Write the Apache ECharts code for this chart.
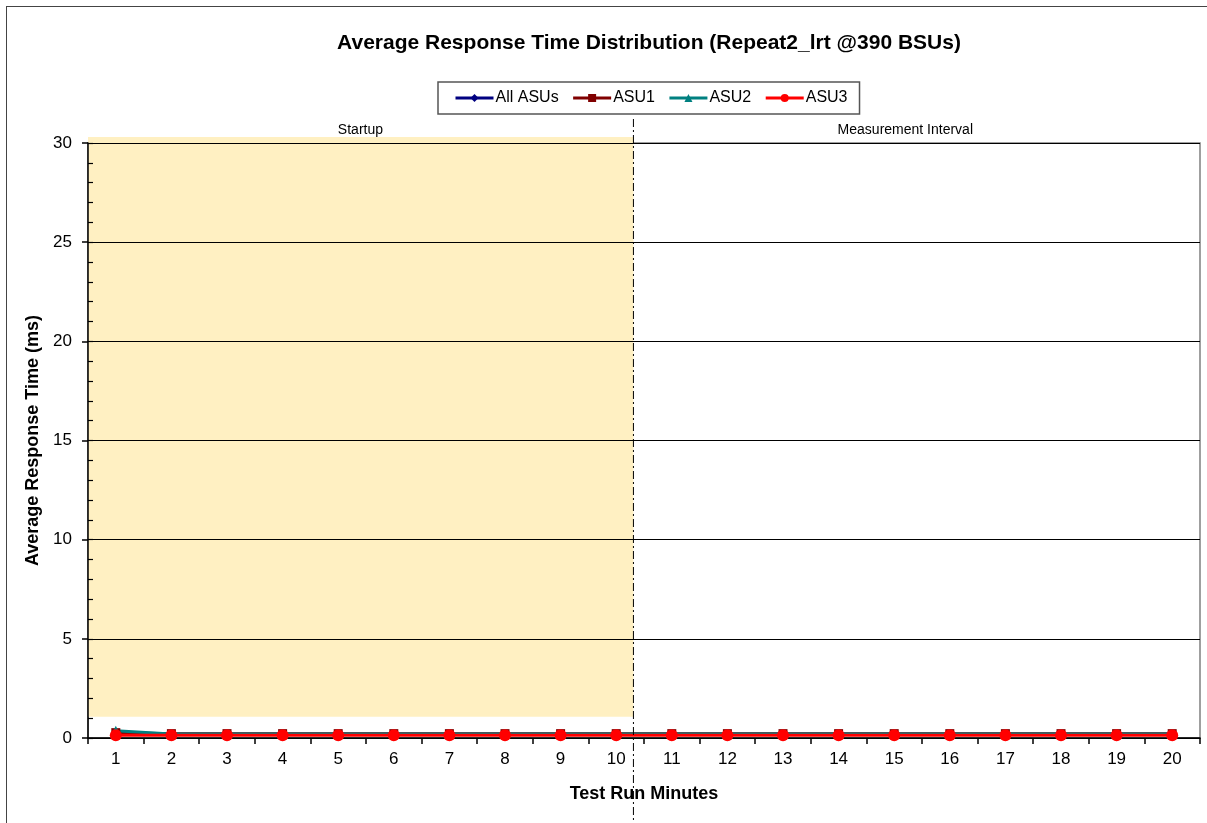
<!DOCTYPE html>
<html>
<head>
<meta charset="utf-8">
<script src="https://cdn.jsdelivr.net/npm/echarts@6/dist/echarts.min.js"></script>
<style>
html,body{margin:0;padding:0;background:#fff;overflow:hidden;}
#frame{position:absolute;left:6px;top:6px;width:1300px;height:1000px;border:1.5px solid #444;box-sizing:border-box;}
#chart{position:absolute;left:0;top:0;width:1207px;height:823px;}
</style>
</head>
<body>
<div id="frame"></div>
<div id="chart"></div>
<script>
// ---- data ----
const minutes = ['1','2','3','4','5','6','7','8','9','10','11','12','13','14','15','16','17','18','19','20'];
const allASUs = [0.24,0.19,0.19,0.19,0.19,0.19,0.19,0.19,0.19,0.19,0.19,0.19,0.19,0.19,0.19,0.19,0.19,0.19,0.19,0.19];
const asu1    = [0.27,0.22,0.22,0.22,0.22,0.22,0.22,0.22,0.22,0.22,0.22,0.22,0.22,0.22,0.22,0.22,0.22,0.22,0.22,0.22];
const asu2    = [0.36,0.20,0.20,0.20,0.20,0.20,0.20,0.20,0.20,0.20,0.20,0.20,0.20,0.20,0.20,0.20,0.20,0.20,0.20,0.20];
const asu3    = [0.14,0.14,0.14,0.14,0.14,0.14,0.14,0.14,0.14,0.14,0.14,0.14,0.14,0.14,0.14,0.14,0.14,0.14,0.14,0.14];
const yTicks = [0,5,10,15,20,25,30];
// phases
const phaseNames = ['Startup', 'Measurement Interval'];
const phaseLabelX = [5.4, 15.2];
const startupShade = {x0: 0.5, x1: 10.31, y0: 1.07, y1: 30.3};
const dividerX = 10.31;

const FONT = 'Liberation Sans, Arial, sans-serif';
const chart = echarts.init(document.getElementById('chart'));

const lineSeries = (name, data, color, symbol, size) => ({
  name, type: 'line', data, xAxisIndex: 0, yAxisIndex: 0,
  symbol, symbolSize: size, showSymbol: true,
  lineStyle: {color, width: 3}, itemStyle: {color},
  z: 5, animation: false
});

chart.setOption({
  animation: false,
  backgroundColor: 'transparent',
  textStyle: {fontFamily: FONT},
  title: {
    text: 'Average Response Time Distribution (Repeat2_lrt @390 BSUs)',
    left: 644, textAlign: 'center', top: 28,
    textStyle: {fontFamily: FONT, fontSize: 21, fontWeight: 'bold', color: '#000'}
  },
  legend: {
    left: 438, top: 82,
    data: ['All ASUs','ASU1','ASU2','ASU3'],
    borderColor: '#555', borderWidth: 1.5,
    padding: [8, 12, 8, 16],
    itemGap: 13, itemWidth: 38, itemHeight: 10,
    lineStyle: {width: 3},
    textStyle: {fontFamily: FONT, fontSize: 16, color: '#000', padding: [0,0,0,-3]}
  },
  grid: {left: 88, right: 7, top: 143, bottom: 85, show: true, borderColor: '#808080', borderWidth: 1.5, backgroundColor: 'transparent'},
  xAxis: [{
    type: 'category', data: minutes, boundaryGap: true,
    name: 'Test Run Minutes', nameLocation: 'middle', nameGap: 47,
    nameTextStyle: {fontFamily: FONT, fontSize: 18, fontWeight: 'bold', color: '#000'},
    axisLine: {lineStyle: {color: '#000', width: 1.5}},
    axisTick: {show: true, alignWithLabel: false, length: 6, lineStyle: {color: '#000', width: 1.5}},
    axisLabel: {fontFamily: FONT, fontSize: 17, color: '#000', margin: 13},
    splitLine: {show: false}
  }, {
    type: 'value', min: 0.5, max: 20.5, show: false
  }],
  yAxis: [{
    type: 'value', min: 0, max: 30, interval: 5,
    name: 'Average Response Time (ms)', nameLocation: 'middle', nameGap: 44,
    nameTextStyle: {fontFamily: FONT, fontSize: 18, fontWeight: 'bold', color: '#000'},
    axisLine: {show: true, lineStyle: {color: '#000', width: 1.5}},
    axisTick: {show: true, length: 6, lineStyle: {color: '#000', width: 1.5}},
    axisLabel: {fontFamily: FONT, fontSize: 17, color: '#000', margin: 16},
    splitLine: {show: true, lineStyle: {color: '#000', width: 1}},
    z: 3
  }, {
    type: 'value', min: 0, max: 30, interval: 1, position: 'left',
    axisLine: {show: false},
    axisTick: {show: true, inside: true, length: 5, lineStyle: {color: '#000', width: 1.2}},
    axisLabel: {show: false},
    splitLine: {show: false},
    z: 4
  }],
  series: [
    {
      type: 'custom', xAxisIndex: 1, yAxisIndex: 0, z: 1, silent: true,
      data: [[startupShade.x0, startupShade.x1, startupShade.y0, startupShade.y1]],
      renderItem: (params, api) => {
        const p0 = api.coord([api.value(0), api.value(3)]);
        const p1 = api.coord([api.value(1), api.value(2)]);
        return {type: 'rect', shape: {x: p0[0], y: p0[1], width: p1[0]-p0[0], height: p1[1]-p0[1]},
          style: {fill: '#FFF0C2'}};
      }
    },
    {
      type: 'custom', xAxisIndex: 1, yAxisIndex: 0, z: 6, silent: true, clip: false,
      data: [[dividerX]],
      renderItem: (params, api) => {
        const top = api.coord([api.value(0), 30]);
        const bot = api.coord([api.value(0), 0]);
        return {type: 'line', shape: {x1: top[0], y1: top[1]-24, x2: bot[0], y2: bot[1]+90},
          style: {stroke: '#000', lineWidth: 1, lineDash: [8, 3, 2, 3]}};
      }
    },
    {
      type: 'custom', xAxisIndex: 1, yAxisIndex: 0, z: 6, silent: true, clip: false,
      data: phaseLabelX.map((x, i) => [x, i]),
      renderItem: (params, api) => {
        const p = api.coord([api.value(0), 30]);
        return {type: 'text', x: p[0], y: p[1]-13,
          style: {text: phaseNames[api.value(1)], fill: '#000', font: '14px ' + FONT, align: 'center', verticalAlign: 'middle'}};
      }
    },
    lineSeries('All ASUs', allASUs, '#000080', 'diamond', 10),
    lineSeries('ASU1', asu1, '#800000', 'rect', 9),
    lineSeries('ASU2', asu2, '#008080', 'triangle', 10),
    lineSeries('ASU3', asu3, '#FF0000', 'circle', 12)
  ]
});
</script>
</body>
</html>
